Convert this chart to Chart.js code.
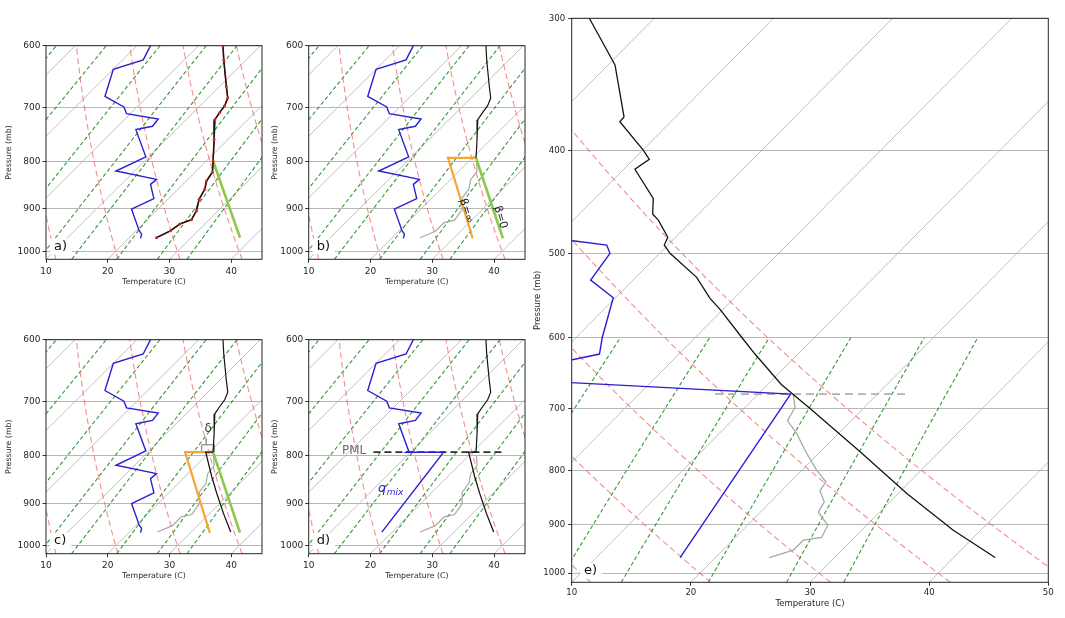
<!DOCTYPE html>
<html><head><meta charset="utf-8">
<script src="https://cdn.jsdelivr.net/npm/chart.js@4.4.1/dist/chart.umd.min.js"></script>
<style>
html,body{margin:0;padding:0;background:#fff;}
#wrap{position:relative;width:1065px;height:618px;overflow:hidden;background:#fff}
canvas{position:absolute;left:0;top:0;}
</style></head><body><div id="wrap"></div>
<script>
// ---------------- data (pressure in hPa, temperature in °C) ----------------
const soundP = [300,331.9,371.5,375.5,399.3,407.4,416.3,443.4,458.7,464.8,482.5,490.7,499.6,526.3,550.8,564.2,600,621.6,664.0,683.4,696.4,708.1,721.0,757.4,799.1,821.2,839.8,857.1,878.4,904.1,924.4,934.4,950.4,966.6];
const soundT = [-35.45,-29.42,-24.34,-24.28,-19.96,-18.68,-19.06,-15.10,-13.85,-12.87,-10.64,-10.29,-9.12,-4.89,-2.02,-0.26,3.95,6.39,11.13,13.24,13.98,14.27,14.65,17.76,21.10,22.78,23.28,24.34,25.03,26.49,27.13,25.94,25.54,24.39];
const dewP = [483,490.7,499.6,529.4,550.1,600,621.6,636.1,680.6,698.7,710.4,719.8,733.0,739.1,790.7,819.2,836.3,846.7,877.2,900.7,950.0,958.0,968.2];
const dewT = [-20.5,-15.12,-14.16,-13.56,-10.19,-7.79,-6.66,-10.0,-6.93,-2.14,-0.62,5.37,5.63,3.48,9.51,6.98,14.91,14.75,17.61,15.72,20.45,21.38,21.91];
const grayP = [678.5,698.0,718.5,738.4,771.2,799.6,820.3,836.5,856.7,875.5,888.1,901.1,925.5,931.0,951.4,966.7];
const grayT = [12.96,14.20,14.67,16.49,19.00,21.22,22.98,23.23,24.51,24.84,25.76,26.74,27.25,25.94,25.93,24.52];
// panel e: mixed layer temperature, mixing-ratio line, lid
const mlP = [678.5,699.5,768.5,841.3,911.0,966.7];
const mlT = [12.96,15.54,23.35,30.74,37.69,43.48];
const eQP = [660,678.1,966.7];
const eQT = [-8.35,12.72,17.04];
const eLidP = [678.1,678.1];
const eLidT = [6.37,22.31];
// panels a-d
const JUNCP = 793, JUNCT = 20.6;
const beta0aP = [800,966.6], beta0aT = [21.2,37.92];
const beta0P = [793,968], beta0T = [20.6,38.0];
const betaInfP = [793,793,968.5], betaInfT = [20.6,16.06,33.15];
const mixedP = [793,793,842.2,877.8,922.4,966.7];
const mixedT = [20.6,19.4,24.31,27.83,32.16,36.42];
const boxP = [792.5,778.7,778.7,792.5,792.5], boxT = [18.71,17.56,19.56,20.71,18.71];
const tickP = [765.9,778.7], tickT = [17.23,18.31];
const dQP = [793,793,966.7], dQT = [9.3,15.35,18.32];
const pmlP = [793,793], pmlT = [4.0,25.07];
// axes
const PB = 1020;
const MIX = [0.0004,0.001,0.002,0.004,0.007,0.01,0.016,0.024,0.032];
const THETA0 = [10,20,30,40,50];
const X_TICKS_SMALL = [10,20,30,40];
const X_TICKS_E = [10,20,30,40,50];
const P_TICKS_SMALL = [600,700,800,900,1000];
const P_TICKS_E = [300,400,500,600,700,800,900,1000];

// ---------------- helpers ----------------
Chart.defaults.font.family = "'DejaVu Sans', sans-serif";
function sk(T,p,S){ return T + S*Math.log10(PB/p); }
function pts(P,T,S){ return P.map((p,i)=>({x:sk(T[i],p,S), y:p})); }
function sel(P,T,f){ const a=[],b=[]; P.forEach((p,i)=>{ if(f(p)){a.push(p);b.push(T[i]);} }); return [a,b]; }
function linspace(a,b,n){ const r=[]; for(let i=0;i<n;i++) r.push(a+(b-a)*i/(n-1)); return r; }
function ln(P,T,S,color,w,order,extra){
  return Object.assign({data:pts(P,T,S), borderColor:color, borderWidth:w, order, pointRadius:0, fill:false, clip:0}, extra||{});
}
function background(S,pTop){
  const ds=[];
  for(let t=-60;t<=50;t+=10){
    ds.push({data:[{x:sk(t,PB,S),y:PB},{x:sk(t,pTop,S),y:pTop}], borderColor:'#b9b9b9', borderWidth:0.9, order:40, pointRadius:0, clip:0});
  }
  const pd = linspace(PB,pTop,50);
  for(const t0 of THETA0){
    const th=t0+273.15;
    ds.push({data:pd.map(p=>({x:sk(th*Math.pow(p/1000,0.2857)-273.15,p,S),y:p})), borderColor:'rgba(240,70,70,0.62)', borderDash:[6,3.5], borderWidth:1.1, order:30, pointRadius:0, clip:0});
  }
  const pm = linspace(PB,600,30);
  for(const w of MIX){
    ds.push({data:pm.map(p=>{ const e=p*w/(0.622+w); const l=Math.log(e/6.112); return {x:sk(243.5*l/(17.67-l),p,S), y:p}; }), borderColor:'rgba(0,128,0,0.8)', borderDash:[4,2.5], borderWidth:1.1, order:30, pointRadius:0, clip:0});
  }
  return ds;
}

const BLACK='#141414', BLUE='#2b1fd1', GRAY='#a8a8a8', ORANGE='#f8a431', GREEN='#8cc84b', RED='#e02424';
const SS = 150.7, SE = 88.3;

// ---------------- panels ----------------
const [upP,upT] = sel(soundP,soundT,p=>p<JUNCP);
const blackUpP = upP.concat([JUNCP]), blackUpT = upT.concat([JUNCT]);
const [gsP,gsT] = sel(grayP,grayT,p=>p>=799);
const [dwP,dwT] = sel(dewP,dewT,p=>p<JUNCP);
const [eBP,eBT] = sel(soundP,soundT,p=>p<678.5);
const [eDP,eDT] = sel(dewP,dewT,p=>p<=636.1);

const panels = [
 {name:'a', L:46,R:262,T:45.7,B:259.3, wy:41.88, hx:27.68, small:true,
  series:[
    ln(soundP,soundT,SS,RED,0,1,{showLine:false,pointRadius:1.5,pointBackgroundColor:RED,pointBorderWidth:0}),
    ln(soundP,soundT,SS,BLACK,1.2,2),
    ln(soundP,soundT,SS,'#8a1a1a',1.6,3),
    ln(dewP,dewT,SS,BLUE,1.4,4),
    ln(beta0aP,beta0aT,SS,GREEN,2.6,5)
  ]},
 {name:'b', L:308.7,R:525,T:45.7,B:259.3, wy:38.68, hx:27.68, small:true,
  series:[
    ln(blackUpP,blackUpT,SS,BLACK,1.2,1),
    ln(betaInfP,betaInfT,SS,ORANGE,2.2,2),
    ln(beta0P,beta0T,SS,GREEN,2.6,3),
    ln(dewP,dewT,SS,BLUE,1.4,4),
    ln(gsP,gsT,SS,GRAY,1.2,6)
  ],
  notes:[{t:'β=∞',X:35.5,p:905,size:11,rot:73,color:'#222'},{t:'β=0',X:41.0,p:919,size:11,rot:73,color:'#222'}]},
 {name:'c', L:46,R:262,T:339.7,B:553.7, wy:41.88, hx:27.28, small:true,
  series:[
    ln(blackUpP,blackUpT,SS,BLACK,1.2,1),
    ln(mixedP,mixedT,SS,BLACK,1.3,1),
    ln(betaInfP,betaInfT,SS,ORANGE,2.2,2),
    ln(beta0P,beta0T,SS,GREEN,2.6,3),
    ln(dewP,dewT,SS,BLUE,1.4,4),
    ln(boxP,boxT,SS,'#777',1,5),
    ln(tickP,tickT,SS,'#999',1,5),
    ln(gsP,gsT,SS,GRAY,1.2,6)
  ],
  notes:[{t:'δ',X:36.26,p:748.5,size:12,rot:0,color:'#333'}]},
 {name:'d', L:308.7,R:525,T:339.7,B:553.7, wy:38.68, hx:27.28, small:true,
  series:[
    ln(blackUpP,blackUpT,SS,BLACK,1.2,1),
    ln(mixedP,mixedT,SS,BLACK,1.3,1),
    ln(dwP.concat(dQP),dwT.concat(dQT),SS,BLUE,1.4,2),
    ln(pmlP,pmlT,SS,'#2e2e2e',1.8,3,{borderDash:[7,4]}),
    ln(gsP,gsT,SS,GRAY,1.2,6)
  ],
  notes:[{t:'PML',X:17.34,p:790.6,size:12,rot:0,color:'#6e6e6e'},{qmix:true,X:21.23,p:874.7}]},
 {name:'e', L:571.7,R:1048.3,T:18.3,B:582.3, wy:38.8, hx:27.0, small:false,
  series:[
    ln(eBP.concat(mlP),eBT.concat(mlT),SE,BLACK,1.3,1),
    ln(eDP.concat(eQP),eDT.concat(eQT),SE,BLUE,1.4,2),
    ln(eLidP,eLidT,SE,'#b0b0b0',1.9,3,{borderDash:[8,5]}),
    ln(grayP,grayT,SE,GRAY,1.3,4)
  ]}
];

function drawNotes(chart,cfg){
  const {ctx, chartArea:a} = chart; const xs=chart.scales.x, ys=chart.scales.y;
  ctx.save();
  (cfg.notes||[]).forEach(n=>{
    const px=xs.getPixelForValue(n.X), py=ys.getPixelForValue(n.p);
    if(n.qmix){
      ctx.fillStyle=BLUE; ctx.textBaseline='alphabetic'; ctx.textAlign='left';
      ctx.font="italic 13px 'DejaVu Sans'"; ctx.fillText('q',px,py);
      const w=ctx.measureText('q').width;
      ctx.font="italic 9px 'DejaVu Sans'"; ctx.fillText('mix',px+w+0.5,py+3);
      return;
    }
    ctx.save(); ctx.translate(px,py); ctx.rotate(n.rot*Math.PI/180);
    ctx.fillStyle=n.color; ctx.font=n.size+"px 'DejaVu Sans'"; ctx.textAlign='center'; ctx.textBaseline='middle';
    ctx.fillText(n.t,0,0); ctx.restore();
  });
  // panel label with white box
  const lab = cfg.name+')';
  ctx.font="13px 'DejaVu Sans'"; ctx.textAlign='left'; ctx.textBaseline='middle';
  const lx = a.left + (cfg.small?8:12.3), ly = a.bottom - (cfg.small?12.8:11.5);
  const tw = ctx.measureText(lab).width;
  ctx.fillStyle='#fff'; ctx.fillRect(lx-4, ly-8, tw+9, 16);
  ctx.fillStyle='#111'; ctx.fillText(lab,lx,ly);
  // frame
  ctx.strokeStyle='#262626'; ctx.lineWidth=1;
  ctx.strokeRect(a.left,a.top,a.right-a.left,a.bottom-a.top);
  ctx.restore();
}

const wrap=document.getElementById('wrap');
panels.forEach(cfg=>{
  const c=document.createElement('canvas'); c.width=1065; c.height=618;
  c.style.width='1065px'; c.style.height='618px'; wrap.appendChild(c);
  const S = cfg.small?SS:SE, pTop = cfg.small?600:300;
  const tickSize = cfg.small?9:8.6, titleSize = cfg.small?7.8:8.5;
  new Chart(c,{
    type:'line',
    data:{datasets: cfg.series.concat(background(S,pTop))},
    options:{
      responsive:false, animation:false, devicePixelRatio:1,
      events:[],
      layout:{padding:{left:cfg.L-cfg.wy, right:1065-cfg.R, top:cfg.T, bottom:618-cfg.B-cfg.hx}},
      plugins:{legend:{display:false}, tooltip:{enabled:false}},
      elements:{line:{tension:0}, point:{radius:0}},
      scales:{
        x:{type:'linear', min:10, max:cfg.small?45:50,
           afterBuildTicks:s=>{ s.ticks=(cfg.small?X_TICKS_SMALL:X_TICKS_E).map(v=>({value:v})); },
           afterFit:s=>{ s.height=cfg.hx; },
           grid:{display:true, drawOnChartArea:false, drawTicks:true, tickLength:3.5, tickColor:'#333', tickWidth:1},
           border:{display:false},
           ticks:{padding:cfg.small?3.5:1.5, color:'#262626', font:{size:tickSize}, maxRotation:0, autoSkip:false, callback:v=>String(v)},
           title:{display:true, text:'Temperature (C)', color:'#262626', font:{size:titleSize}, padding:0}},
        y:{type:'logarithmic', reverse:true, min:pTop, max:PB,
           afterBuildTicks:s=>{ s.ticks=(cfg.small?P_TICKS_SMALL:P_TICKS_E).map(v=>({value:v})); },
           afterFit:s=>{ s.width=cfg.wy; },
           grid:{display:true, drawOnChartArea:true, color:'#afafaf', lineWidth:0.9, drawTicks:true, tickLength:3.5, tickColor:'#333', tickWidth:1},
           border:{display:false},
           ticks:{padding:cfg.small?2:3, color:'#262626', font:{size:tickSize}, autoSkip:false, callback:v=>String(v)},
           title:{display:true, text:'Pressure (mb)', color:'#262626', font:{size:titleSize}, padding:0}}
      }
    },
    plugins:[{id:'notes'+cfg.name, afterDatasetsDraw(chart){ drawNotes(chart,cfg); }}]
  });
});
</script>
</body></html>
